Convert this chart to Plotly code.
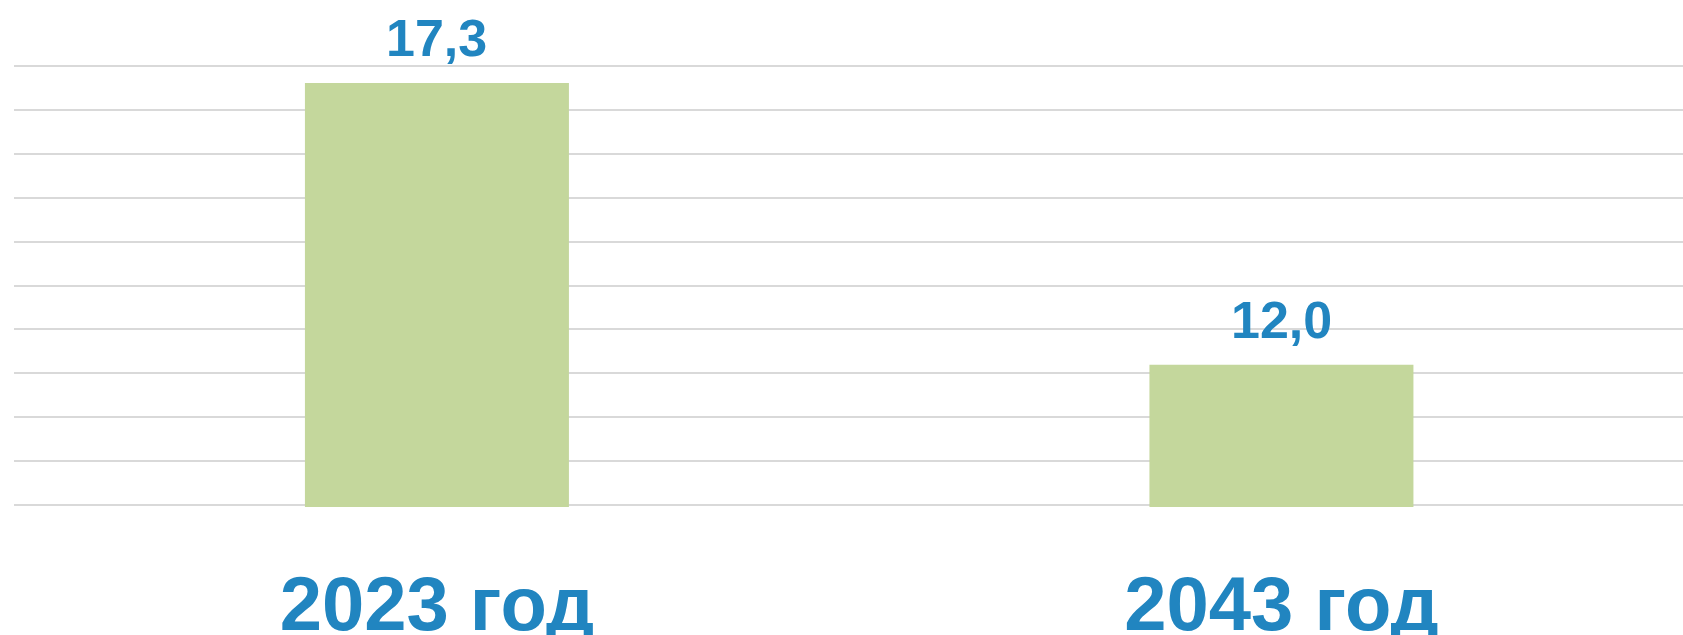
import plotly.graph_objects as go

categories = ["2023 год", "2043 год"]
values = [17.3, 12.0]
value_labels = ["17,3", "12,0"]

BLUE = "#2185C0"
GREEN = "#C4D79C"
GRID = "#D9D9D9"

y_min, y_max = 9.364, 17.62
eps = 0.0375  # ~2 px so edge gridlines are drawn

fig = go.Figure()
fig.add_trace(go.Bar(
    x=categories, y=values, width=0.3126,
    marker=dict(color=GREEN, line=dict(width=0)),
    hoverinfo="skip",
))

for c, v, t in zip(categories, values, value_labels):
    fig.add_annotation(
        x=c, y=v, text=t, showarrow=False, yanchor="bottom", yshift=14,
        font=dict(family="Liberation Sans", size=52, color=BLUE, weight="bold"),
    )

fig.update_layout(
    width=1683, height=635,
    margin=dict(l=14, r=0, t=63.5, b=127.5, pad=0, autoexpand=False),
    paper_bgcolor="white", plot_bgcolor="white",
    showlegend=False,
    xaxis=dict(
        range=[-0.5008, 1.4755], showgrid=False, zeroline=False, showline=False,
        ticks="", ticklabelstandoff=46, automargin=False,
        tickfont=dict(family="Liberation Sans", size=76, color=BLUE, weight="bold"),
    ),
    yaxis=dict(
        range=[y_min - eps, y_max + eps], tick0=y_min, dtick=(y_max - y_min) / 10,
        showticklabels=False, showgrid=True, gridcolor=GRID, gridwidth=2,
        zeroline=False, showline=False, ticks="", automargin=False,
    ),
)

fig.write_html("out.html", config={"displayModeBar": False},
               post_script="document.body.style.margin='0';")
